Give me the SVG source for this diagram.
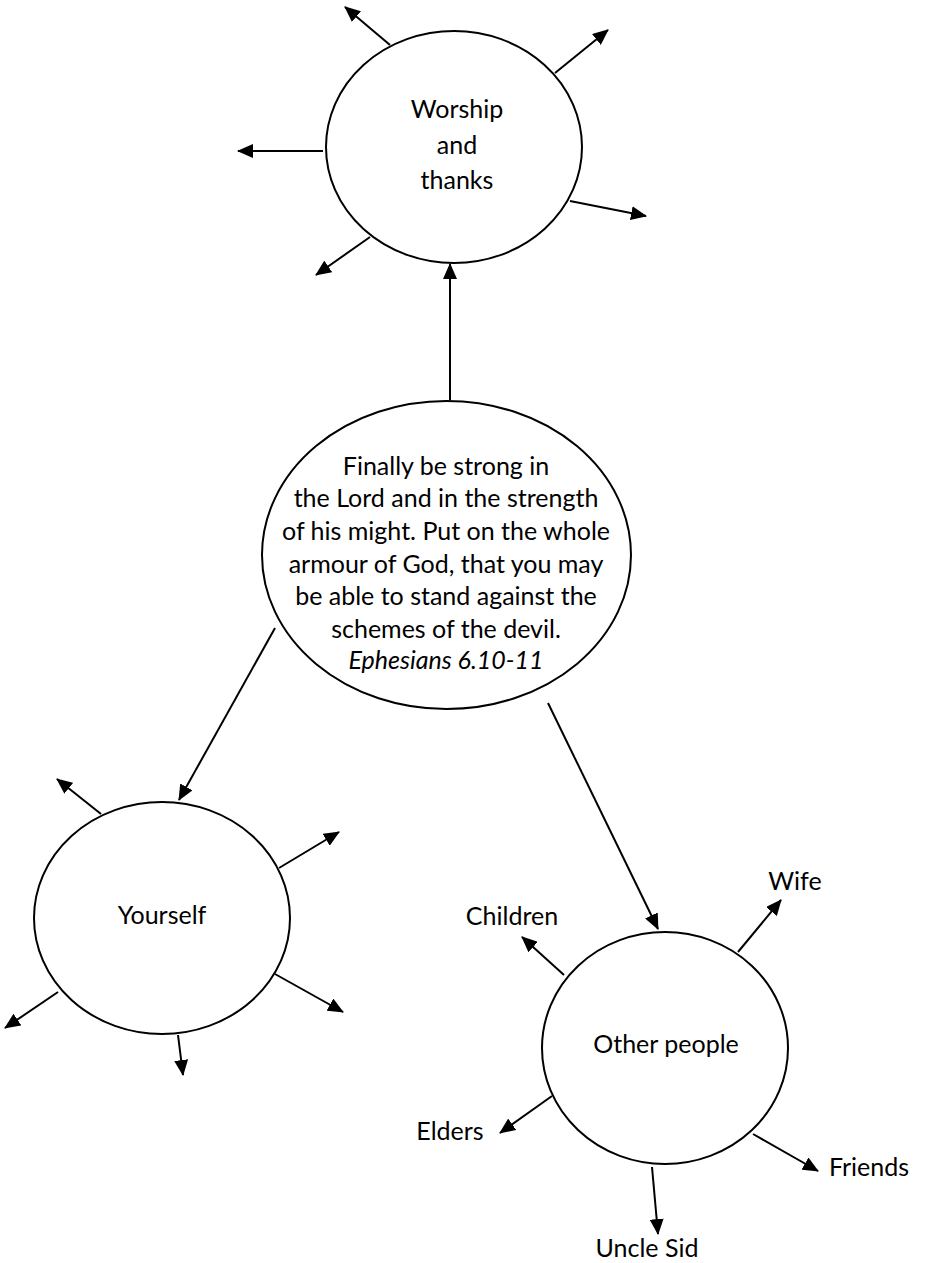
<svg xmlns="http://www.w3.org/2000/svg" width="944" height="1263" viewBox="0 0 944 1263">
<style>
.node{fill:#fff;stroke:#000;stroke-width:2}
.t{font-family:Lato,"Open Sans","Liberation Sans",sans-serif;font-size:25px;fill:#000;text-anchor:middle}
.it{font-style:italic}
.c{stroke:#000;stroke-width:2;fill:none;marker-end:url(#ah)}
</style>
<defs>
<marker id="ah" markerUnits="userSpaceOnUse" markerWidth="16" markerHeight="14" refX="15" refY="7" orient="auto" viewBox="0 0 16 14">
<path d="M0,0 L16,7 L0,14 z" fill="#000"/>
</marker>
</defs>
<rect width="944" height="1263" fill="#fff"/>
<g id="connectors">
<line class="c" x1="450" y1="400" x2="450" y2="264"/>
<line class="c" x1="275" y1="628" x2="179" y2="800"/>
<line class="c" x1="548" y1="703" x2="658" y2="929"/>
<line class="c" x1="390" y1="45" x2="345" y2="7"/>
<line class="c" x1="555" y1="73" x2="608" y2="30"/>
<line class="c" x1="323" y1="151" x2="238" y2="151"/>
<line class="c" x1="570" y1="201" x2="646" y2="216"/>
<line class="c" x1="370" y1="237" x2="316" y2="275"/>
<line class="c" x1="101" y1="814" x2="57" y2="779"/>
<line class="c" x1="279" y1="868" x2="339" y2="832"/>
<line class="c" x1="275" y1="974" x2="343" y2="1012"/>
<line class="c" x1="58" y1="992" x2="5" y2="1028"/>
<line class="c" x1="178" y1="1035" x2="183" y2="1075"/>
<line class="c" x1="564" y1="975" x2="522" y2="937"/>
<line class="c" x1="738" y1="952" x2="781" y2="900"/>
<line class="c" x1="552" y1="1096" x2="500" y2="1133"/>
<line class="c" x1="753" y1="1134" x2="818" y2="1171"/>
<line class="c" x1="652" y1="1167" x2="658" y2="1234"/>
</g>
<g id="worship">
<ellipse class="node" cx="454" cy="147" rx="128" ry="116"/>
<text class="t" x="457" y="118">Worship</text>
<text class="t" x="457" y="154">and</text>
<text class="t" x="457" y="189">thanks</text>
</g>
<g id="verse">
<ellipse class="node" cx="446.5" cy="555" rx="184.5" ry="154"/>
<text class="t" x="446" y="475">Finally be strong in</text>
<text class="t" x="446" y="507">the Lord and in the strength</text>
<text class="t" x="446" y="540">of his might. Put on the whole</text>
<text class="t" x="446" y="573">armour of God, that you may</text>
<text class="t" x="446" y="605">be able to stand against the</text>
<text class="t" x="446" y="638">schemes of the devil.</text>
<text class="t it" x="446" y="669">Ephesians 6.10-11</text>
</g>
<g id="yourself">
<ellipse class="node" cx="162" cy="918" rx="128" ry="116"/>
<text class="t" x="162" y="924">Yourself</text>
</g>
<g id="other">
<ellipse class="node" cx="665" cy="1048" rx="123" ry="116"/>
<text class="t" x="666" y="1053">Other people</text>
</g>
<g id="labels">
<text class="t" x="512" y="925">Children</text>
<text class="t" x="795" y="890">Wife</text>
<text class="t" x="450" y="1140">Elders</text>
<text class="t" x="869" y="1176">Friends</text>
<text class="t" x="647" y="1257">Uncle Sid</text>
</g>
</svg>
